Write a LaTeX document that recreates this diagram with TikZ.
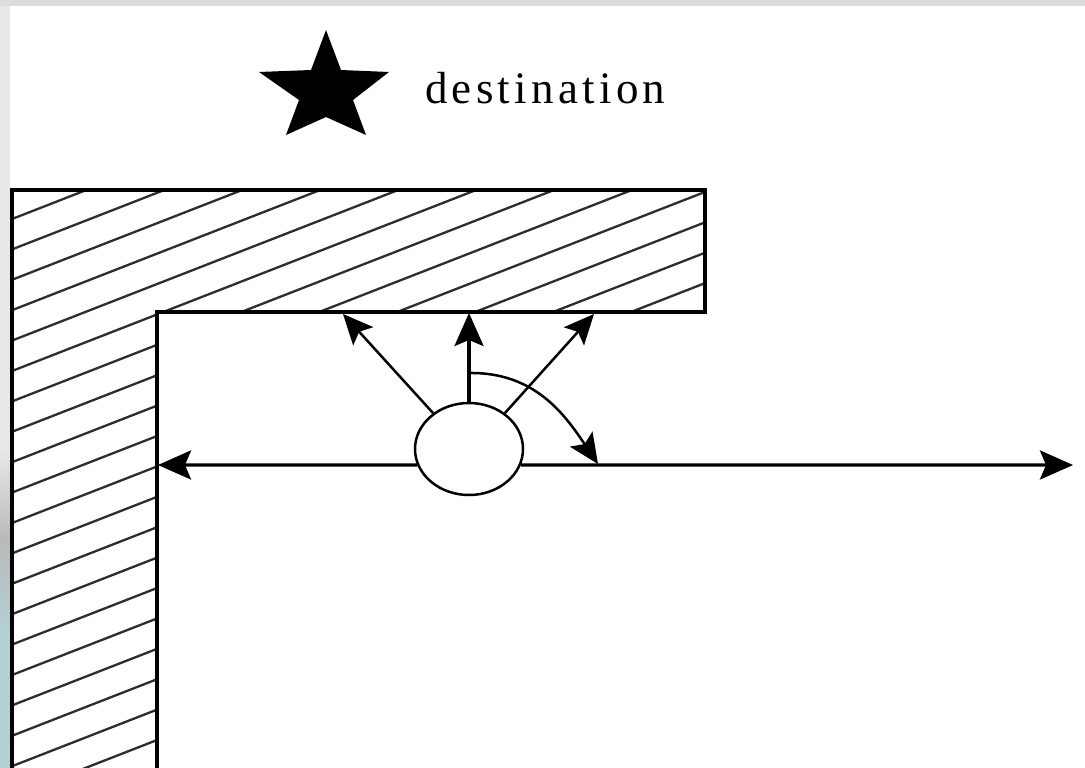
\documentclass[tikz,border=0pt]{standalone}
\usepackage{fontspec}
\setmainfont{Liberation Serif}
\newfontfamily\labelfont[LetterSpace=9.5]{Liberation Serif}
\usetikzlibrary{shapes.geometric,arrows.meta}
\definecolor{framegray}{RGB}{220,220,220}
\definecolor{sidegray}{RGB}{232,232,232}
\definecolor{sideblue}{RGB}{180,208,212}
\definecolor{hatchgray}{RGB}{45,45,45}
\tikzset{
  wall/.style={line width=3.6pt, line join=miter},
  hatchline/.style={line width=2.3pt, hatchgray},
  bigarrow/.style={line width=3.2pt, -{Stealth[length=33pt,width=29pt,inset=6pt]}},
  thinarrow/.style={line width=2.5pt, -{Stealth[length=30pt,width=27pt,inset=6pt]}},
  robotshape/.style={ellipse, draw, line width=2.5pt, minimum width=108pt, minimum height=92pt, inner sep=0pt},
}
\begin{document}
\begin{tikzpicture}[x=1pt,y=-1pt]
\useasboundingbox (0,0) rectangle (1085,768);
\fill[white] (0,0) rectangle (1085,768);
% frame strips
\fill[framegray] (0,0) rectangle (1085,6);
\fill[sidegray] (0,6) rectangle (10,450);
\shade[top color=sidegray, bottom color=gray!55] (0,450) rectangle (10,540);
\shade[top color=gray!55, bottom color=sideblue] (0,540) rectangle (10,630);
\fill[sideblue] (0,630) rectangle (10,768);
% hatching inside the L-shaped wall
\begin{scope}
  \clip (12,190) -- (705,190) -- (705,312) -- (157,312) -- (157,768) -- (12,768) -- cycle;
  \foreach \k in {-30,...,20} {
    \draw[hatchline] (12,{219+30.4*\k}) -- (720,{219+30.4*\k-0.39*708});
  }
\end{scope}
\draw[wall] (12,772) -- (12,190) -- (705,190) -- (705,312) -- (157,312) -- (157,772);
% destination star and label
\fill[black] (326,30) -- (341,70) -- (389,72) -- (353,100) -- (366,135) -- (326,117)
  -- (286,135) -- (299,100) -- (259,72) -- (311,70) -- cycle;
\node[anchor=base west, inner sep=0pt, font=\labelfont\fontsize{45}{50}\selectfont] (dest) at (425,103) {destination};
% robot
\node[robotshape] (robot) at (469,449) {};
\coordinate (wallL) at (158,465);
\coordinate (farR) at (1073,465);
\coordinate (upM) at (469,313);
\coordinate (upL) at (343,314);
\coordinate (upR) at (594,314);
\coordinate (arcS) at (469,373);
\coordinate (arcE) at (598,464);
\draw[bigarrow] (robot.197) -- (wallL);
\draw[bigarrow] (robot.-17) -- (farR);
\draw[bigarrow] (robot.north) -- (upM);
\draw[thinarrow] (robot.135) -- (upL);
\draw[thinarrow] (robot.45) -- (upR);
\draw[thinarrow] (arcS) .. controls (535,372) and (565,415) .. (arcE);
\end{tikzpicture}
\end{document}
